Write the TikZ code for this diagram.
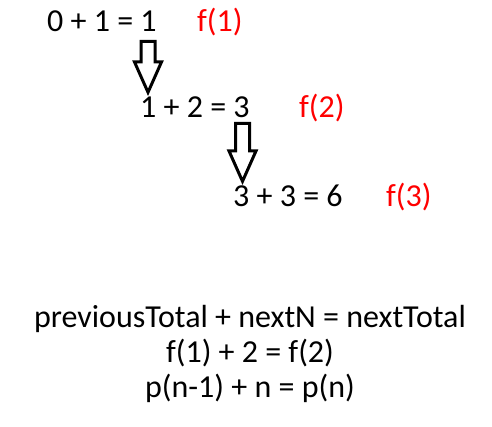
\documentclass[tikz,border=0pt]{standalone}
\usepackage{fontspec}
\setmainfont{Carlito}
\usetikzlibrary{shapes.arrows,positioning}

\begin{document}
\begin{tikzpicture}[x=1pt, y=-1pt,
  expr/.style={inner sep=0pt, anchor=base west, font=\fontsize{32}{38}\selectfont},
  fname/.style={expr, text=red},
  rule/.style={inner sep=0pt, anchor=base, font=\fontsize{32}{38}\selectfont},
  downarrow/.style={single arrow, draw, line width=3pt, rotate=-90, anchor=tip, inner sep=5.5pt, single arrow tip angle=48, single arrow head extend=6.5pt}
]
  \useasboundingbox (0,0) rectangle (492,427);
  % steps
  \node[expr] (stepone) at (47,32) {0 + 1 = 1};
  \node[fname] (fone) at (197,32) {f(1)};
  \node[expr] (steptwo) at (140,118) {1 + 2 = 3};
  \node[fname] (ftwo) at (299,118) {f(2)};
  \node[expr] (stepthree) at (233,207) {3 + 3 = 6};
  \node[fname] (fthree) at (386,207) {f(3)};
  % arrows
  \node[downarrow, minimum height=51pt] (arrowone) at (148,96) {};
  \node[downarrow, minimum height=58pt] (arrowtwo) at (242.5,185) {};
  % general rule
  \node[rule] (words) at (250,327) {previousTotal + nextN = nextTotal};
  \node[rule] (fnrule) at (250,362) {f(1) + 2 = f(2)};
  \node[rule] (prule) at (250,397) {p(n-1) + n = p(n)};
\end{tikzpicture}
\end{document}
